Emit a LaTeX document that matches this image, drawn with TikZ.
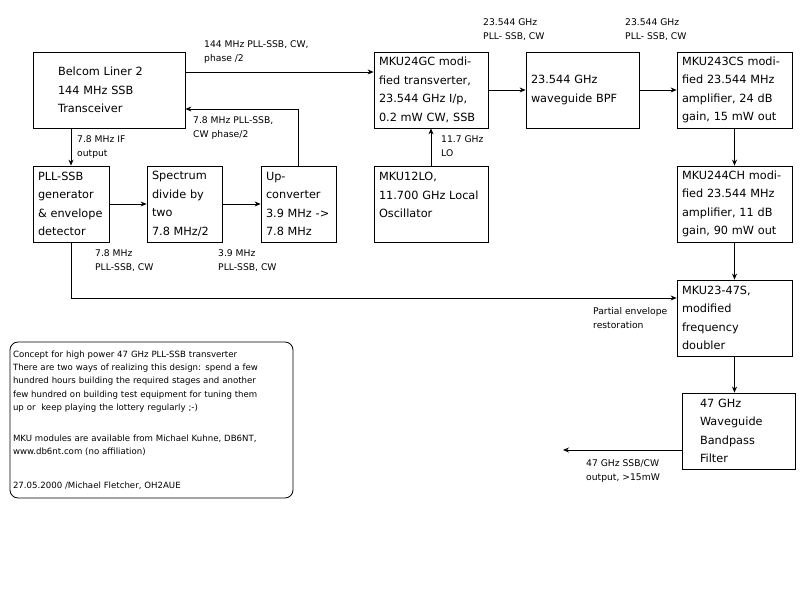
\documentclass[tikz,border=0pt]{standalone}
\usepackage{fontspec}
\setmainfont{DejaVu Sans}
\usepackage{tikz}
\usetikzlibrary{positioning, arrows.meta}

\tikzset{
  blk/.style={draw, line width=0.8pt, align=left, inner xsep=5pt, inner ysep=0pt,
    minimum height=76pt, font=\fontsize{11.3}{18.5}\selectfont},
  lbl/.style={align=left, inner sep=0pt, anchor=west, font=\fontsize{9.2}{14}\selectfont},
  note/.style={draw, line width=0.8pt, rounded corners=8pt, align=left, inner xsep=3pt,
    text width=277pt, minimum height=156pt, font=\fontsize{8.6}{13.3}\selectfont},
  arr/.style={->, line width=0.8pt},
}

\begin{document}
\begin{tikzpicture}[x=1pt, y=-1pt, node distance=2cm, on grid, >={Stealth[length=6pt, width=5pt]}]
    \useasboundingbox (0,0) rectangle (801,601);

    % Define blocks
    \node[blk, inner xsep=25pt, text width=102pt] (belcom) at (109,90)
        {Belcom Liner 2\\144 MHz SSB\\Transceiver};
    \node[blk, text width=104pt] (trv) [right=322pt of belcom]
        {MKU24GC modi-\\fied transverter,\\23.544 GHz I/p,\\0.2 mW CW, SSB};
    \node[blk, text width=103pt] (bpf) [right=151.5pt of trv]
        {23.544 GHz\\waveguide BPF};
    \node[blk, text width=105pt] (amp1) [right=152pt of bpf]
        {MKU243CS modi-\\fied 23.544 MHz\\amplifier, 24 dB\\gain, 15 mW out};
    \node[blk, text width=104pt] (lo) [below=114.5pt of trv]
        {MKU12LO,\\11.700 GHz Local\\Oscillator\\\mbox{}};
    \node[blk, text width=105pt] (amp2) [below=114pt of amp1]
        {MKU244CH modi-\\fied 23.544 MHz\\amplifier, 11 dB\\gain, 90 mW out};
    \node[blk, text width=105pt] (dbl) [below=114pt of amp2]
        {MKU23-47S,\\modified\\frequency\\doubler};
    \node[blk, inner xsep=18pt, text width=77pt] (filt) [below right=113pt and 4pt of dbl]
        {47 GHz\\Waveguide\\Bandpass\\Filter};
    \node[blk, text width=66pt] (pll) at (71,204)
        {PLL-SSB\\generator\\\& envelope\\detector};
    \node[blk, text width=65pt] (div) [right=113.5pt of pll]
        {Spectrum\\divide by\\two\\7.8 MHz/2};
    \node[blk, text width=65pt] (upc) [right=114pt of div]
        {Up-\\converter\\3.9 MHz ->\\7.8 MHz};
    \node[note] (remark) at (151.5,420)
        {Concept for high power 47 GHz PLL-SSB transverter\\
         There are two ways of realizing this design: spend a few\\
         hundred hours building the required stages and another\\
         few hundred on building test equipment for tuning them\\
         up or\ \ keep playing the lottery regularly ;-)\\[17.7pt]
         MKU modules are available from Michael Kuhne, DB6NT,\\
         www.db6nt.com (no affiliation)\\[20.5pt]
         27.05.2000 /Michael Fletcher, OH2AUE};
    \coordinate (rfout) at (563,450);

    % Define connections
    \draw[arr] ([yshift=18pt]belcom.east) -- ([yshift=18pt]trv.west);
    \draw[arr] (upc.north) |- ([yshift=-19pt]belcom.east);
    \draw[arr] (pll.north |- belcom.south) -- (pll.north);
    \draw[arr] (pll) -- (div);
    \draw[arr] (div) -- (upc);
    \draw[arr] (pll.south) |- ([yshift=20pt]dbl.west);
    \draw[arr] (lo.north) -- (trv.south);
    \draw[arr] (trv) -- (bpf);
    \draw[arr] (bpf) -- (amp1);
    \draw[arr] (amp1) -- (amp2);
    \draw[arr] (amp2) -- (dbl);
    \draw[arr] (dbl.south) -- (dbl.south |- filt.north);
    \draw[arr] (filt.west |- rfout) -- (rfout);

    % Define labels
    \node[lbl] (l144) at (204,52) {144 MHz PLL-SSB, CW,\\phase /2};
    \node[lbl] (lback) at (193,128) {7.8 MHz PLL-SSB,\\CW phase/2};
    \node[lbl] (lif) at (77,147) {7.8 MHz IF\\output};
    \node[lbl] (llo) at (441,146) {11.7 GHz\\LO};
    \node[lbl] (lk1) at (483,30) {23.544 GHz\\PLL- SSB, CW};
    \node[lbl] (lk2) at (625,30) {23.544 GHz\\PLL- SSB, CW};
    \node[lbl] (l78) at (95,261) {7.8 MHz\\PLL-SSB, CW};
    \node[lbl] (l39) at (218,261) {3.9 MHz\\PLL-SSB, CW};
    \node[lbl] (lenv) at (593,318) {Partial envelope\\restoration};
    \node[lbl] (lout) at (586,471) {47 GHz SSB/CW\\output, >15mW};
\end{tikzpicture}
\end{document}
